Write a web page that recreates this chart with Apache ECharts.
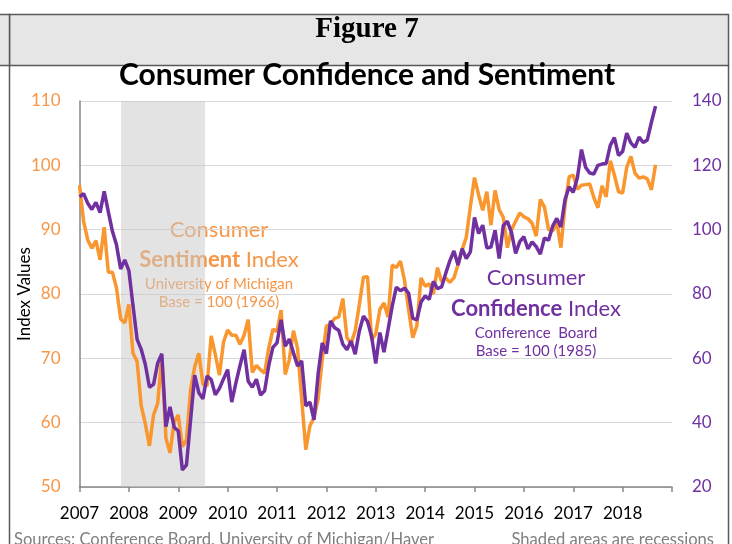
<!DOCTYPE html>
<html>
<head>
<meta charset="utf-8">
<script src="https://cdn.jsdelivr.net/npm/echarts@6/dist/echarts.min.js"></script>
<style>
  html, body { margin: 0; padding: 0; background: #fff; }
  #main { width: 732px; height: 544px; }
</style>
</head>
<body>
<div id="main"></div>
<script>
// monthly, Jan 2007 - Sep 2018 (month index 0 = Jan 2007)
const yearLabels = ['2007', '2008', '2009', '2010', '2011', '2012', '2013', '2014', '2015', '2016', '2017', '2018']

// University of Michigan Consumer Sentiment (left axis)
const sentiment = [
  96.9, 91.3, 88.4, 87.1, 88.3, 85.3, 90.4, 83.4, 83.4, 80.9, 76.1, 75.5,
  78.4, 70.8, 69.5, 62.6, 59.8, 56.4, 61.2, 63.0, 70.3, 57.6, 55.3, 60.1,
  61.2, 56.3, 57.3, 65.1, 68.7, 70.8, 66.0, 65.7, 73.5, 70.6, 67.4, 72.5,
  74.4, 73.6, 73.6, 72.2, 73.6, 76.0, 67.8, 68.9, 68.2, 67.7, 71.6, 74.5,
  74.2, 77.5, 67.5, 69.8, 74.3, 71.5, 63.7, 55.8, 59.5, 60.8, 63.7, 69.9,
  75.0, 75.3, 76.2, 76.4, 79.3, 73.2, 72.3, 74.3, 78.3, 82.6, 82.7, 72.9,
  73.8, 77.6, 78.6, 76.4, 84.5, 84.1, 85.1, 82.1, 77.5, 73.2, 75.1, 82.5,
  81.2, 81.6, 80.0, 84.1, 81.9, 82.5, 81.8, 82.5, 84.6, 86.9, 88.8, 93.6,
  98.1, 95.4, 93.0, 95.9, 90.7, 96.1, 93.1, 91.9, 87.2, 90.0, 91.3, 92.6,
  92.0, 91.7, 91.0, 89.0, 94.7, 93.5, 90.0, 89.8, 91.2, 87.2, 93.8, 98.2,
  98.5, 96.3, 96.9, 97.0, 97.1, 95.0, 93.4, 96.8, 95.1, 100.7, 98.5, 95.9,
  95.7, 99.7, 101.4, 98.8, 98.0, 98.2, 97.9, 96.2, 100.1
]

// Conference Board Consumer Confidence (right axis)
const confidence = [
  110.2, 111.2, 108.2, 106.3, 108.5, 105.3, 111.9, 105.6, 99.5, 95.2, 87.8, 90.6,
  87.3, 76.4, 65.9, 62.8, 58.1, 51.0, 51.9, 58.5, 61.4, 38.8, 44.9, 38.6,
  37.4, 25.3, 26.9, 40.8, 54.8, 49.3, 47.4, 54.5, 53.4, 48.7, 50.6, 53.6,
  56.5, 46.4, 52.3, 57.7, 62.7, 52.9, 51.0, 53.5, 48.6, 49.9, 57.8, 63.4,
  64.8, 72.0, 63.8, 66.0, 61.7, 57.6, 59.2, 45.2, 46.4, 40.9, 55.2, 64.8,
  61.5, 71.6, 69.5, 68.7, 64.4, 62.7, 65.4, 61.3, 68.4, 73.1, 71.5, 66.7,
  58.4, 68.0, 61.9, 69.0, 76.2, 82.1, 81.0, 81.8, 80.2, 72.4, 72.0, 77.5,
  79.4, 78.3, 83.9, 81.7, 82.2, 86.4, 90.3, 93.4, 89.0, 94.1, 91.0, 93.1,
  103.8, 98.8, 101.4, 94.3, 94.6, 99.8, 91.0, 101.3, 102.6, 99.1, 92.6, 96.3,
  97.8, 94.0, 96.2, 94.7, 92.4, 97.4, 96.7, 101.1, 103.5, 100.8, 109.4, 113.3,
  111.6, 116.1, 124.9, 119.4, 117.6, 117.3, 120.0, 120.4, 120.6, 126.2, 128.6, 123.1,
  124.3, 130.0, 127.0, 125.6, 128.8, 127.1, 127.9, 133.4, 138.4
]

// recession shading, in month index units
const recession = [10.1, 30.5]

const ORANGE = '#F9962E'
const ORANGE_TXT = '#F79646'
const PURPLE = '#7030A0'
const FONT = 'Lato'

const myChart = echarts.init(document.getElementById('main'))

myChart.setOption({
  animation: false,
  backgroundColor: '#fff',
  textStyle: { fontFamily: FONT },
  grid: { left: 79.5, right: 60, top: 101, bottom: 57, containLabel: false, outerBoundsMode: 'none' },
  xAxis: {
    type: 'value',
    min: 0,
    max: 144,
    interval: 12,
    splitLine: { show: false },
    axisLine: { onZero: false, lineStyle: { color: '#868686', width: 1.5 } },
    axisTick: { show: true, length: 5, lineStyle: { color: '#868686', width: 1.5 } },
    axisLabel: {
      color: '#000',
      fontSize: 17,
      margin: 18,
      formatter: (v) => yearLabels[v / 12] || ''
    }
  },
  yAxis: [
    {
      type: 'value',
      min: 50,
      max: 110,
      interval: 10,
      name: 'Index Values',
      nameLocation: 'middle',
      nameGap: 46,
      nameMoveOverlap: false,
      nameTextStyle: { color: '#000', fontSize: 17 },
      axisLine: { show: true, lineStyle: { color: '#868686', width: 1.5 } },
      axisTick: { show: false },
      axisLabel: { color: ORANGE_TXT, fontSize: 17, margin: 19 },
      splitLine: { lineStyle: { color: '#d9d9d9', width: 1 } }
    },
    {
      type: 'value',
      min: 20,
      max: 140,
      interval: 20,
      position: 'right',
      axisLine: { show: false },
      axisTick: { show: false },
      axisLabel: { color: PURPLE, fontSize: 17, margin: 20 },
      splitLine: { show: false }
    }
  ],
  series: [
    {
      name: 'Consumer Sentiment Index',
      type: 'line',
      yAxisIndex: 0,
      symbol: 'none',
      lineStyle: { color: ORANGE, width: 3.5 },
      data: sentiment.map((v, i) => [i, v]),
      markArea: {
        silent: true,
        itemStyle: { color: 'rgba(200,200,200,0.5)' },
        data: [[{ xAxis: recession[0] }, { xAxis: recession[1] }]]
      },
      z: 2
    },
    {
      name: 'Consumer Confidence Index',
      type: 'line',
      yAxisIndex: 1,
      symbol: 'none',
      lineStyle: { color: PURPLE, width: 3.5 },
      data: confidence.map((v, i) => [i, v]),
      z: 3
    }
  ],
  graphic: [
    // header band
    {
      type: 'rect',
      shape: { x: 9.5, y: 14.5, width: 719, height: 51 },
      style: { fill: '#e6e6e6', stroke: '#595959', lineWidth: 1.5 }
    },
    {
      type: 'rect',
      shape: { x: -5, y: 14.5, width: 14.5, height: 51 },
      style: { fill: '#e6e6e6', stroke: '#595959', lineWidth: 1.5 }
    },
    {
      type: 'line',
      shape: { x1: 9.5, y1: 65, x2: 9.5, y2: 544 },
      style: { stroke: '#595959', lineWidth: 1.5 }
    },
    {
      type: 'line',
      shape: { x1: 728.5, y1: 65, x2: 728.5, y2: 544 },
      style: { stroke: '#595959', lineWidth: 1.5 }
    },
    {
      type: 'text',
      style: {
        x: 367, y: 30, text: 'Figure 7', align: 'center', verticalAlign: 'middle',
        font: 'bold 29px "Liberation Serif"', fill: '#000'
      }
    },
    {
      type: 'text',
      style: {
        x: 367, y: 75, text: 'Consumer Confidence and Sentiment', align: 'center', verticalAlign: 'middle',
        font: 'bold 30px Lato', fill: '#000'
      }
    },
    // sentiment annotation
    {
      type: 'text',
      style: {
        x: 219, y: 230, text: 'Consumer', align: 'center', verticalAlign: 'middle',
        font: '22px Lato', fill: ORANGE_TXT
      }
    },
    {
      type: 'text',
      style: {
        x: 219, y: 260, text: '{b|Sentiment} Index', align: 'center', verticalAlign: 'middle',
        font: '22px Lato', fill: ORANGE_TXT,
        rich: { b: { fontWeight: 'bold', fontSize: 22, fontFamily: FONT, fill: ORANGE_TXT } }
      }
    },
    {
      type: 'text',
      style: {
        x: 219, y: 284, text: 'University of Michigan', align: 'center', verticalAlign: 'middle',
        font: '15px Lato', fill: ORANGE_TXT
      }
    },
    {
      type: 'text',
      style: {
        x: 219, y: 302, text: 'Base = 100 (1966)', align: 'center', verticalAlign: 'middle',
        font: '15px Lato', fill: ORANGE_TXT
      }
    },
    // confidence annotation
    {
      type: 'text',
      style: {
        x: 536, y: 278, text: 'Consumer', align: 'center', verticalAlign: 'middle',
        font: '22px Lato', fill: PURPLE
      }
    },
    {
      type: 'text',
      style: {
        x: 536, y: 309, text: '{b|Confidence} Index', align: 'center', verticalAlign: 'middle',
        font: '22px Lato', fill: PURPLE,
        rich: { b: { fontWeight: 'bold', fontSize: 22, fontFamily: FONT, fill: PURPLE } }
      }
    },
    {
      type: 'text',
      style: {
        x: 536, y: 333, text: 'Conference  Board', align: 'center', verticalAlign: 'middle',
        font: '15px Lato', fill: PURPLE
      }
    },
    {
      type: 'text',
      style: {
        x: 536, y: 351, text: 'Base = 100 (1985)', align: 'center', verticalAlign: 'middle',
        font: '15px Lato', fill: PURPLE
      }
    },
    // footer
    {
      type: 'text',
      style: {
        x: 14, y: 531, text: 'Sources: Conference Board, University of Michigan/Haver',
        font: '16.6px Lato', fill: '#7f7f7f', verticalAlign: 'top'
      }
    },
    {
      type: 'text',
      style: {
        x: 714, y: 531, text: 'Shaded areas are recessions', align: 'right',
        font: '16.6px Lato', fill: '#7f7f7f', verticalAlign: 'top'
      }
    }
  ]
})
</script>
</body>
</html>
